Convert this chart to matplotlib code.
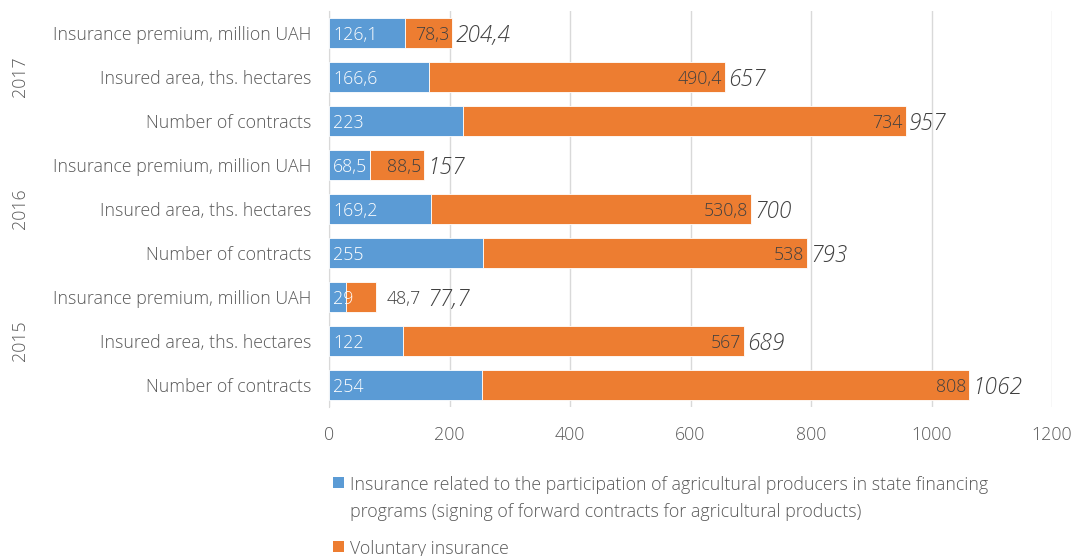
import matplotlib
matplotlib.use("Agg")
import matplotlib.pyplot as plt
from matplotlib.patches import Rectangle

# ---- data (bottom to top) ----
years = ["2015", "2016", "2017"]
indicators = ["Number of contracts", "Insured area, ths. hectares", "Insurance premium, million UAH"]
state_program = [254, 122, 29, 255, 169.2, 68.5, 223, 166.6, 126.1]
voluntary = [808, 567, 48.7, 538, 530.8, 88.5, 734, 490.4, 78.3]
totals = [1062, 689, 77.7, 793, 700, 157, 957, 657, 204.4]
xticks = [0, 200, 400, 600, 800, 1000, 1200]
legend_labels = ["Insurance related to the participation of agricultural producers in state financing\nprograms (signing of forward contracts for agricultural products)",
                 "Voluntary insurance"]

BLUE = "#5B9BD5"
ORANGE = "#ED7D31"
GREY = "#595959"
DARK = "#404040"
FONT = "Open Sans"
W = 300
FS = 12.8
FST = 16.3

def fmt(v):
    s = ("%g" % v)
    return s.replace(".", ",")

fig = plt.figure(figsize=(10.77, 5.56), dpi=100)
ax = fig.add_axes([329/1077, 1-407/556, (1052-329)/1077, (407-11)/556])

n = len(state_program)
ys = list(range(n))
labels = [indicators[i % 3] for i in range(n)]

ax.barh(ys, state_program, height=0.68, color=BLUE, edgecolor="white", linewidth=0.6, zorder=3)
ax.barh(ys, voluntary, left=state_program, height=0.68, color=ORANGE, edgecolor="white", linewidth=0.6, zorder=3)

VA = "center_baseline"
for y, a, b, t in zip(ys, state_program, voluntary, totals):
    ax.annotate(fmt(a), (0, y), xytext=(3, 0), textcoords="offset points",
                ha="left", va=VA, color="white", fontsize=FS, family=FONT, weight=W, zorder=4)
    if b * 0.6025 < 45:
        ax.annotate(fmt(b), (t, y), xytext=(7.5, 0), textcoords="offset points",
                    ha="left", va=VA, color=DARK, fontsize=FS, family=FONT, weight=W, zorder=4)
        ax.annotate(fmt(t), (t, y), xytext=(37, 0), textcoords="offset points",
                    ha="left", va=VA, color=DARK, fontsize=FST, style="italic",
                    family=FONT, weight=W, zorder=4)
    else:
        ax.annotate(fmt(b), (t, y), xytext=(-2, 0), textcoords="offset points",
                    ha="right", va=VA, color=DARK, fontsize=FS, family=FONT, weight=W, zorder=4)
        ax.annotate(fmt(t), (t, y), xytext=(2.5, 0), textcoords="offset points",
                    ha="left", va=VA, color=DARK, fontsize=FST, style="italic",
                    family=FONT, weight=W, zorder=4)

ax.set_xlim(0, 1200)
ax.set_ylim(-0.5, n - 0.5)
ax.set_xticks(xticks)
ax.set_xticklabels([str(x) for x in xticks], family=FONT, weight=W, fontsize=FS, color=GREY)
ax.set_yticks(ys)
ax.set_yticklabels(labels, family=FONT, weight=W, fontsize=FS, color=GREY, va=VA)
ax.tick_params(axis="x", length=0, pad=14)
ax.tick_params(axis="y", length=0, pad=13)
ax.grid(axis="x", color="#D9D9D9", linewidth=1, zorder=0)
for s in ["top", "right", "bottom"]:
    ax.spines[s].set_visible(False)
ax.spines["left"].set_color("#D9D9D9")

# year labels
for i, yr in enumerate(years):
    ycen = 1 + 3 * i
    yfig = ax.transData.transform((0, ycen))[1]
    fig.text(20/1077, yfig / fig.dpi / fig.get_figheight(), yr, rotation=90, ha="center", va="center",
             family=FONT, weight=W, fontsize=FS, color=GREY)

# legend
def px(x, y):
    return x / 1077, 1 - y / 556

for (color, txt, ytop) in [(BLUE, legend_labels[0], 477), (ORANGE, legend_labels[1], 541)]:
    x0, y0 = px(333, ytop + 11)
    fig.patches.append(Rectangle((x0, y0), 11/1077, 11/556, transform=fig.transFigure,
                                 facecolor=color, edgecolor="none"))
    fig.text(350/1077, 1 - (ytop - 1)/556, txt, ha="left", va="top", family=FONT, weight=W,
             fontsize=FS, color=GREY, linespacing=1.65)

fig.savefig("out.png", dpi=100)
